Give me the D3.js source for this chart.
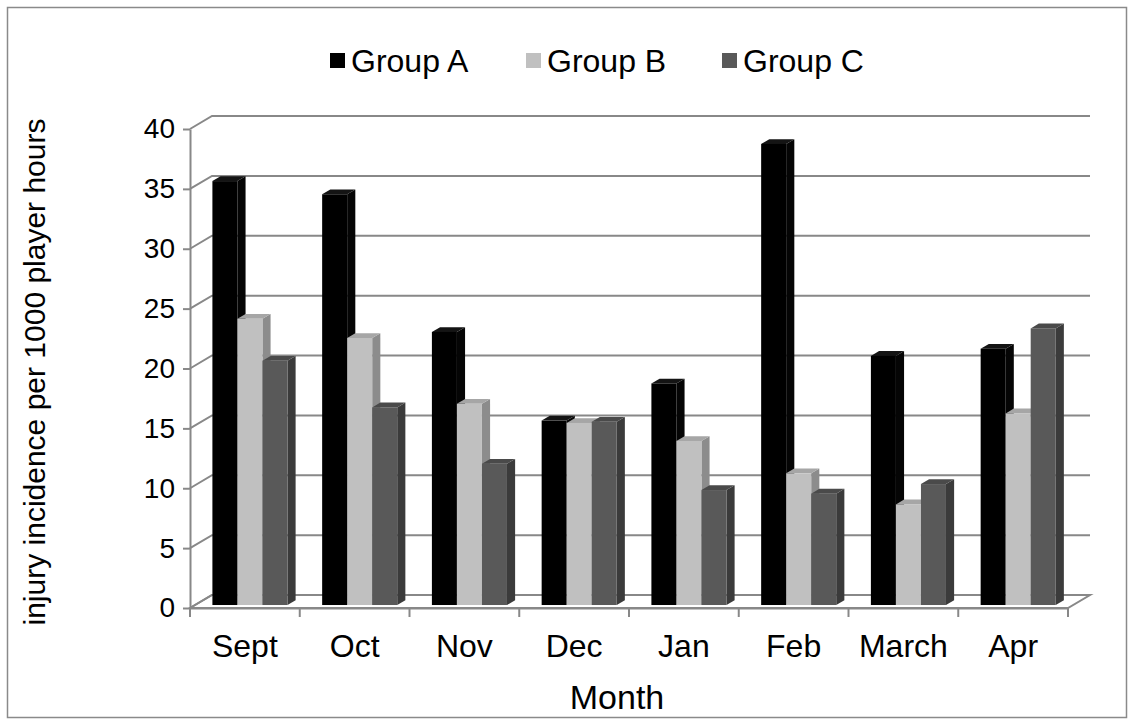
<!DOCTYPE html>
<html>
<head>
<meta charset="utf-8">
<script src="https://cdn.jsdelivr.net/npm/d3@7"></script>
<style>
  html, body { margin: 0; padding: 0; background: #ffffff; }
  svg { display: block; }
  text { font-family: "Liberation Sans", Arial, sans-serif; fill: #000; }
</style>
</head>
<body>
<svg id="chart" width="1134" height="722"></svg>
<script>
// Monthly injury incidence per 1000 player hours, three groups
const months = ["Sept", "Oct", "Nov", "Dec", "Jan", "Feb", "March", "Apr"];
const groups = ["Group A", "Group B", "Group C"];
const groupA = [35.4, 34.3, 22.8, 15.4, 18.5, 38.5, 20.8, 21.4];
const groupB = [23.9, 22.3, 16.8, 15.2, 13.7, 11.0, 8.4, 16.0];
const groupC = [20.4, 16.5, 11.8, 15.3, 9.6, 9.3, 10.1, 23.1];
const yTicks = [0, 5, 10, 15, 20, 25, 30, 35, 40];

const series = [groupA, groupB, groupC];
// front / top / side shading per group
const faceColors = [
  { front: "#000000", top: "#141414", side: "#050505" },
  { front: "#c0c0c0", top: "#a6a6a6", side: "#8c8c8c" },
  { front: "#595959", top: "#4a4a4a", side: "#3b3b3b" }
];

const svg = d3.select("#chart");

// outer chart border
svg.append("rect")
  .attr("x", 7.5).attr("y", 7.5)
  .attr("width", 1119).attr("height", 710)
  .attr("fill", "#fff").attr("stroke", "#8a8a8a").attr("stroke-width", 1.5);

// plot scales (front plane), plus an oblique depth offset
const x = d3.scaleBand().domain(months).range([190, 1068]).paddingInner(0).paddingOuter(0);
const y = d3.scaleLinear().domain([0, 40]).range([608, 129]);
const DX = 22, DY = 13;               // full depth offset of the walls
const proj = (px, py, z) => [px + z * DX, py - z * DY];

const gridColor = "#888888";
const x0 = x.range()[0], x1 = x.range()[1];

// floor slab
const floorPts = [proj(x0, y(0), 0), proj(x1, y(0), 0), proj(x1, y(0), 1), proj(x0, y(0), 1)];
svg.append("polygon")
  .attr("points", floorPts.map(p => p.join(",")).join(" "))
  .attr("fill", "#ffffff").attr("stroke", gridColor).attr("stroke-width", 2);

// back-wall gridlines and side-wall diagonals
const grid = svg.append("g").attr("fill", "none").attr("stroke", gridColor).attr("stroke-width", 2);
yTicks.forEach(v => {
  const a = proj(x0, y(v), 0), b = proj(x0, y(v), 1), c = proj(x1, y(v), 1);
  grid.append("polyline").attr("points", [a, b, c].map(p => p.join(",")).join(" "));
});

// value axis
const yAxis = svg.append("g")
  .attr("transform", `translate(${x0},0)`)
  .call(d3.axisLeft(y).tickValues(yTicks).tickSize(7).tickSizeOuter(0).tickPadding(8));
yAxis.select(".domain").attr("stroke", gridColor).attr("stroke-width", 2);
yAxis.selectAll(".tick line").attr("stroke", gridColor).attr("stroke-width", 2);
yAxis.selectAll(".tick text")
  .attr("font-size", 28).attr("font-family", "Liberation Sans, Arial, sans-serif").attr("fill", "#000");

// category axis: boundary ticks + labels
const xAxis = svg.append("g")
  .attr("transform", `translate(0,${y(0)})`)
  .call(d3.axisBottom(x).tickSize(0).tickPadding(26));
xAxis.select(".domain").attr("stroke", gridColor).attr("stroke-width", 2);
xAxis.selectAll(".tick text")
  .attr("font-size", 32).attr("font-family", "Liberation Sans, Arial, sans-serif").attr("fill", "#000");
const bounds = months.map(m => x(m)).concat([x1]);
xAxis.selectAll("line.bound").data(bounds).join("line")
  .attr("class", "bound")
  .attr("x1", d => d).attr("x2", d => d)
  .attr("y1", 0).attr("y2", 9)
  .attr("stroke", gridColor).attr("stroke-width", 2);

// 3D columns
const clusterW = x.bandwidth() * 0.684;
const inner = d3.scaleBand().domain(groups).range([0, clusterW]);
const zF = 0.23, zB = 0.6;
const bars = svg.append("g");
months.forEach((m, i) => {
  groups.forEach((g, j) => {
    const v = series[j][i];
    const left = x(m) + (x.bandwidth() - clusterW) / 2 + inner(g);
    const right = left + inner.bandwidth();
    const yt = y(v), yb = y(0);
    const c = faceColors[j];
    const poly = pts => pts.map(p => p.join(",")).join(" ");
    // side face
    bars.append("polygon")
      .attr("points", poly([proj(right, yt, zF), proj(right, yt, zB), proj(right, yb, zB), proj(right, yb, zF)]))
      .attr("fill", c.side);
    // top face
    bars.append("polygon")
      .attr("points", poly([proj(left, yt, zF), proj(left, yt, zB), proj(right, yt, zB), proj(right, yt, zF)]))
      .attr("fill", c.top);
    // front face
    const f = proj(left, yt, zF);
    bars.append("rect")
      .attr("x", f[0]).attr("y", f[1])
      .attr("width", right - left).attr("height", yb - yt)
      .attr("fill", c.front);
  });
});

// axis titles
svg.append("text")
  .attr("transform", "translate(45,372) rotate(-90)")
  .attr("text-anchor", "middle")
  .attr("font-size", 30)
  .text("injury incidence per 1000 player hours");
svg.append("text")
  .attr("x", 617).attr("y", 709)
  .attr("text-anchor", "middle")
  .attr("font-size", 34)
  .text("Month");

// legend
const legend = svg.append("g");
const legendX = d3.scalePoint().domain(groups).range([330, 722]);
groups.forEach((g, j) => {
  const item = legend.append("g").attr("transform", `translate(${legendX(g)},0)`);
  item.append("rect").attr("x", 0).attr("y", 53).attr("width", 15).attr("height", 15)
    .attr("fill", faceColors[j].front);
  item.append("text").attr("x", 21).attr("y", 72).attr("font-size", 32).text(g);
});
</script>
</body>
</html>
